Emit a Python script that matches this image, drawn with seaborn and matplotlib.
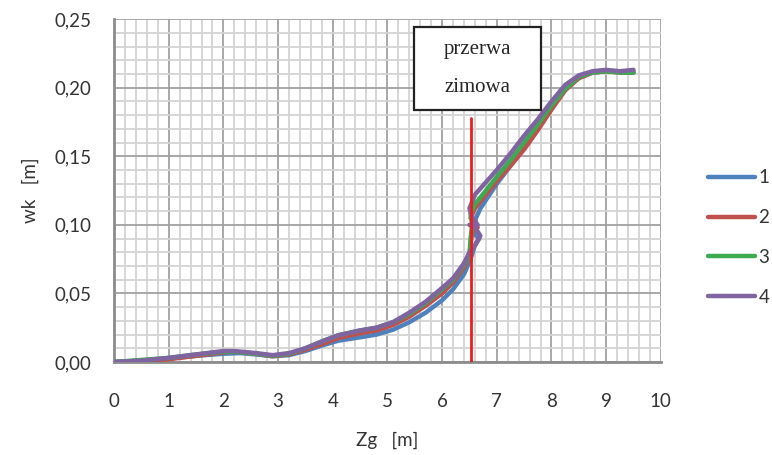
import matplotlib
matplotlib.use("Agg")
import matplotlib.pyplot as plt
import seaborn as sns
import pandas as pd
from matplotlib.patches import Rectangle
from matplotlib.ticker import MultipleLocator, FuncFormatter

# ---- data ----
x1 = [0, 0.5, 1, 1.5, 2, 2.3, 2.6, 2.9, 3.2, 3.5, 3.8, 4.1, 4.5, 4.8, 5.1, 5.4, 5.7, 6.0, 6.2, 6.4, 6.52, 6.6, 6.68, 6.62, 6.58, 6.62, 6.7, 6.85, 7, 7.25, 7.5, 7.75, 8, 8.25, 8.5, 8.75, 9, 9.25, 9.5]
y1 = [0, 0.001, 0.0025, 0.0045, 0.006, 0.0065, 0.0055, 0.0042, 0.005, 0.008, 0.012, 0.0155, 0.018, 0.020, 0.0235, 0.029, 0.036, 0.045, 0.053, 0.064, 0.075, 0.085, 0.090, 0.092, 0.098, 0.105, 0.112, 0.121, 0.130, 0.143, 0.157, 0.171, 0.187, 0.199, 0.207, 0.211, 0.212, 0.212, 0.212]

x2 = [0, 0.5, 1, 1.5, 2, 2.2, 2.6, 2.9, 3.2, 3.5, 3.8, 4.1, 4.5, 4.8, 5.1, 5.4, 5.7, 6.0, 6.2, 6.4, 6.5, 6.55, 6.65, 6.6, 6.52, 6.6, 6.8, 7, 7.25, 7.5, 7.75, 8, 8.25, 8.5, 8.75, 9, 9.25, 9.5]
y2 = [0, 0.0005, 0.002, 0.0045, 0.007, 0.0075, 0.006, 0.0042, 0.0055, 0.009, 0.013, 0.0175, 0.021, 0.023, 0.027, 0.033, 0.041, 0.050, 0.058, 0.069, 0.078, 0.095, 0.098, 0.103, 0.105, 0.112, 0.122, 0.132, 0.143, 0.155, 0.169, 0.184, 0.198, 0.207, 0.211, 0.212, 0.211, 0.211]

x3 = [0, 0.5, 1, 1.5, 2, 2.2, 2.6, 2.9, 3.2, 3.5, 3.8, 4.1, 4.5, 4.8, 5.1, 5.4, 5.7, 6.0, 6.2, 6.4, 6.5, 6.52, 6.55, 6.52, 6.6, 6.8, 7, 7.25, 7.5, 7.75, 8, 8.25, 8.5, 8.75, 9, 9.25, 9.5]
y3 = [0, 0.0015, 0.003, 0.0055, 0.0075, 0.0075, 0.006, 0.0045, 0.006, 0.010, 0.015, 0.0195, 0.023, 0.025, 0.029, 0.035, 0.043, 0.053, 0.060, 0.071, 0.078, 0.090, 0.100, 0.108, 0.115, 0.125, 0.135, 0.147, 0.160, 0.173, 0.187, 0.199, 0.208, 0.211, 0.212, 0.211, 0.211]

x4 = [0, 0.5, 1, 1.5, 2, 2.2, 2.6, 2.9, 3.2, 3.5, 3.8, 4.1, 4.5, 4.8, 5.1, 5.4, 5.7, 6.0, 6.2, 6.4, 6.5, 6.6, 6.7, 6.62, 6.5, 6.65, 6.55, 6.5, 6.6, 6.8, 7, 7.25, 7.5, 7.75, 8, 8.25, 8.5, 8.75, 9, 9.25, 9.5]
y4 = [0, 0.001, 0.003, 0.0055, 0.008, 0.008, 0.0065, 0.005, 0.0065, 0.010, 0.015, 0.0195, 0.023, 0.025, 0.029, 0.036, 0.044, 0.054, 0.061, 0.072, 0.080, 0.085, 0.092, 0.097, 0.100, 0.100, 0.105, 0.112, 0.122, 0.131, 0.140, 0.152, 0.165, 0.177, 0.190, 0.202, 0.209, 0.212, 0.213, 0.212, 0.213]

series_names = ["1", "2", "3", "4"]
colors = ["#4F81BD", "#C0504D", "#3DAA50", "#8064A2"]

winter_x = 6.52
winter_top = 0.178
box_text = ["przerwa", "zimowa"]

frames = []
for name, xs, ys in zip(series_names, [x1, x2, x3, x4], [y1, y2, y3, y4]):
    frames.append(pd.DataFrame({"Zg": xs, "wk": ys, "seria": name}))
df = pd.concat(frames, ignore_index=True)

sns.set_style("white")
plt.rcParams["font.family"] = ["Lato", "DejaVu Sans"]

fig = plt.figure(figsize=(7.72, 4.55), dpi=100)
ax = fig.add_axes([0.1477, 0.2044, 0.856 - 0.1477, 0.958 - 0.2044])

sns.lineplot(data=df, x="Zg", y="wk", hue="seria", palette=colors, sort=False,
             estimator=None, units="seria", linewidth=3.2, ax=ax, legend=False,
             zorder=3)
for line in ax.get_lines():
    line.set_solid_joinstyle("round")
    line.set_solid_capstyle("round")

ax.set_xlim(0, 10)
ax.set_ylim(0, 0.25)
ax.xaxis.set_major_locator(MultipleLocator(1))
ax.xaxis.set_minor_locator(MultipleLocator(0.2))
ax.yaxis.set_major_locator(MultipleLocator(0.05))
ax.yaxis.set_minor_locator(MultipleLocator(0.01))
ax.grid(which="minor", color="#d3d3d3", linewidth=1.3, zorder=0)
ax.grid(which="major", color="#a0a0a0", linewidth=1.3, zorder=0)
ax.set_axisbelow(True)

ax.yaxis.set_major_formatter(FuncFormatter(lambda v, p: f"{v:.2f}".replace(".", ",")))
ax.xaxis.set_major_formatter(FuncFormatter(lambda v, p: f"{v:.0f}"))

for s in ["top", "right"]:
    ax.spines[s].set_visible(False)
for s in ["left", "bottom"]:
    ax.spines[s].set_color("#8c8c8c")
    ax.spines[s].set_linewidth(2)
ax.tick_params(which="major", direction="out", length=5, width=2, color="#8c8c8c",
               labelsize=13.5, labelcolor="#333333")
ax.tick_params(axis="x", pad=17)
ax.tick_params(axis="y", pad=11)
ax.tick_params(which="minor", length=0)

ax.set_xlabel("Zg   [m]", fontsize=13.5, color="#333333", labelpad=16)
ax.set_ylabel("wk   [m]", fontsize=13.5, color="#333333", labelpad=11)

# winter break marker
ax.plot([winter_x, winter_x], [0, winter_top], color="#EE1C1C", linewidth=2, zorder=4)
rect = Rectangle((5.48, 0.184), 2.33, 0.06, facecolor="white", edgecolor="#222222",
                 linewidth=1.6, zorder=5)
ax.add_patch(rect)
ax.text(6.645, 0.228, box_text[0], ha="center", va="center", fontsize=15,
        family="Liberation Serif", zorder=6)
ax.text(6.645, 0.200, box_text[1], ha="center", va="center", fontsize=15,
        family="Liberation Serif", zorder=6)

handles = [plt.Line2D([0], [0], color=c, linewidth=3.2, solid_capstyle="round") for c in colors]
leg = fig.legend(handles, series_names, loc="center left", bbox_to_anchor=(0.917, 0.478),
                 frameon=False, fontsize=13.5, handlelength=2.5, handletextpad=0.2,
                 labelspacing=1.22, borderpad=0, borderaxespad=0)
for t in leg.get_texts():
    t.set_color("#333333")

fig.savefig("out.png", dpi=100)
